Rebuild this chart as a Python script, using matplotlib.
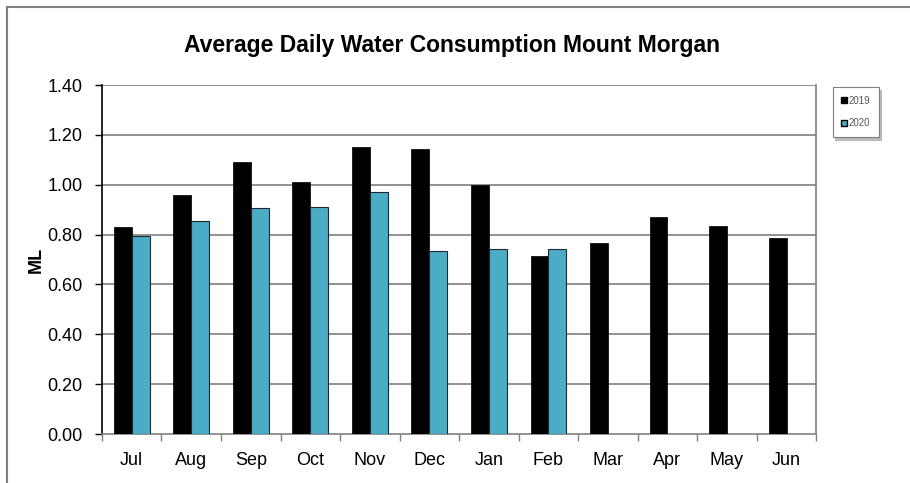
import numpy as np
import matplotlib as mpl
import matplotlib.pyplot as plt
from matplotlib.lines import Line2D

mpl.use('Agg')

mpl.rcParams['font.family'] = ['Liberation Sans', 'DejaVu Sans']

months = ['Jul', 'Aug', 'Sep', 'Oct', 'Nov', 'Dec', 'Jan', 'Feb', 'Mar', 'Apr', 'May', 'Jun']
vals_2019 = [0.83, 0.96, 1.09, 1.01, 1.15, 1.145, 1.00, 0.715, 0.765, 0.87, 0.835, 0.785]
vals_2020 = [0.795, 0.855, 0.905, 0.91, 0.97, 0.733, 0.742, 0.742]
series_labels = ['2019', '2020']
y_ticks = [0.0, 0.2, 0.4, 0.6, 0.8, 1.0, 1.2, 1.4]

TEAL = '#4BACC6'
GRID = '#7f7f7f'


def main():
    fig = plt.figure(figsize=(9.1, 4.83), dpi=100)
    ax = fig.add_axes([0.112, 0.1014, 0.785, 0.7226])

    x = np.arange(len(months))
    w = 0.3
    ax.bar(x - w / 2, vals_2019, w, color='black', edgecolor='#111111', linewidth=0.6, zorder=3)
    x2 = np.arange(len(vals_2020))
    ax.bar(x2 + w / 2, vals_2020, w, color=TEAL, edgecolor='#1a2a30', linewidth=0.8, zorder=3)

    ax.set_xlim(-0.5, len(months) - 0.5)
    ax.set_ylim(0, 1.4)
    ax.set_yticks(y_ticks)
    ax.set_yticklabels(['{:.2f}'.format(v) for v in y_ticks], fontsize=13)
    ax.set_xticks(x)
    ax.set_xticklabels(months, fontsize=13)
    ax.set_xticks(np.arange(-0.5, len(months)), minor=True)
    ax.tick_params(axis='x', which='major', length=0, pad=13)
    ax.tick_params(axis='x', which='minor', length=5, color=GRID, width=1)
    ax.tick_params(axis='y', length=5, width=1, color='black', pad=9)

    for v in y_ticks[1:]:
        ax.axhline(v, color=GRID, linewidth=1.2, zorder=1)
    ax.spines['top'].set_visible(False)
    ax.spines['left'].set_color('black')
    ax.spines['right'].set_color(GRID)
    ax.spines['bottom'].set_color(GRID)
    for s in ax.spines.values():
        s.set_linewidth(1.2)

    ax.set_ylabel('ML', fontsize=13, fontweight='bold', labelpad=2)
    fig.text(0.497, 0.906, 'Average Daily Water Consumption Mount Morgan',
             ha='center', va='center', fontsize=16.5, fontweight='bold')

    proxies = [
        Line2D([], [], marker='s', linestyle='none', markersize=5, markerfacecolor='black', markeredgecolor='black'),
        Line2D([], [], marker='s', linestyle='none', markersize=5, markerfacecolor=TEAL, markeredgecolor='black'),
    ]
    leg = fig.legend(proxies, series_labels, loc='upper left', bbox_to_anchor=(0.915, 0.82),
                     fontsize=7, frameon=True, shadow={'color': '#bbbbbb', 'alpha': 1.0}, fancybox=False,
                     handlelength=0.6, handletextpad=0.1, labelspacing=1.3,
                     borderpad=0.9, borderaxespad=0)
    leg.get_frame().set_edgecolor(GRID)
    leg.get_frame().set_linewidth(0.8)
    for t in leg.get_texts():
        t.set_color('#555555')

    # page border
    fig.add_artist(Line2D([0.0077, 0.0077], [0.0, 0.9855], color='#808080', linewidth=1.5, transform=fig.transFigure))
    fig.add_artist(Line2D([0.0077, 1.0], [0.9855, 0.9855], color='#808080', linewidth=1.5, transform=fig.transFigure))

    plt.savefig('out.png', dpi=100)
    plt.close()


if __name__ == '__main__':
    main()
